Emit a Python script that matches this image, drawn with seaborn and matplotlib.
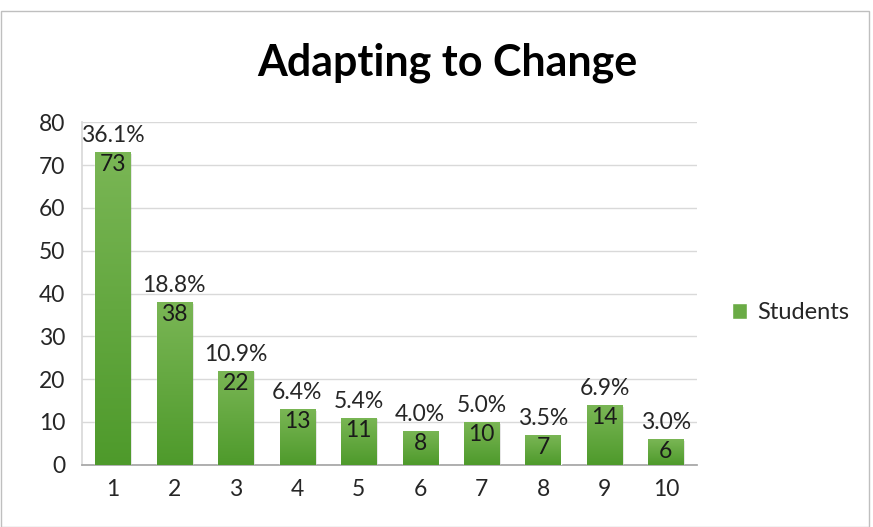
import numpy as np
import pandas as pd
import matplotlib
matplotlib.use("Agg")
import matplotlib.pyplot as plt
import seaborn as sns
from matplotlib.colors import LinearSegmentedColormap
from matplotlib.patches import Rectangle, Patch

# data
ratings = ["1", "2", "3", "4", "5", "6", "7", "8", "9", "10"]
students = [73, 38, 22, 13, 11, 8, 10, 7, 14, 6]
pct_labels = ["36.1%", "18.8%", "10.9%", "6.4%", "5.4%", "4.0%", "5.0%", "3.5%", "6.9%", "3.0%"]

df = pd.DataFrame({"rating": ratings, "students": students})

sns.set_theme(style="white")
plt.rcParams["font.family"] = ["Lato", "DejaVu Sans"]

fig = plt.figure(figsize=(8.73, 5.27), dpi=100)
ax = fig.add_axes([0.094, 0.118, 0.704, 0.650])

sns.barplot(data=df, x="rating", y="students", color="#6aab45", width=0.57,
            ax=ax, zorder=3, saturation=1)

ax.set_ylim(0, 80)
ax.set_yticks(range(0, 81, 10))
ax.yaxis.grid(True, color="#d9d9d9", lw=1, zorder=0)
ax.set_axisbelow(True)
ax.set_xlabel("")
ax.set_ylabel("")
ax.tick_params(axis="both", labelsize=16.5, colors="#262626", length=0)
ax.tick_params(axis="x", pad=10)
ax.tick_params(axis="y", pad=12)
for s in ["top", "right"]:
    ax.spines[s].set_visible(False)
ax.spines["left"].set_color("#d9d9d9")
ax.spines["bottom"].set_color("#a6a6a6")

# gradient fill + soft shadow on each bar
grad = LinearSegmentedColormap.from_list("g", ["#4e9a2b", "#7ab655"])
img = np.linspace(0, 1, 256).reshape(-1, 1)
for p in list(ax.patches):
    x0, w, h = p.get_x(), p.get_width(), p.get_height()
    sh = Rectangle((x0 + 0.03, 0), w, h - 0.4, facecolor="#000000", alpha=0.12,
                   edgecolor="none", zorder=2)
    ax.add_patch(sh)
    im = ax.imshow(img, cmap=grad, aspect="auto", origin="lower",
                   extent=(x0, x0 + w, 0, h), zorder=4)
    im.set_clip_path(p)
ax.set_xlim(-0.5, len(ratings) - 0.5)

for i, (v, pl) in enumerate(zip(students, pct_labels)):
    ax.text(i, v + 1.4, pl, ha="center", va="bottom", fontsize=16.5, color="#262626", zorder=5)
    ax.text(i, v - 0.5, str(v), ha="center", va="top", fontsize=16.5, color="#1a1a1a", zorder=5)

fig.suptitle("Adapting to Change", x=0.512, y=0.92, fontsize=31, fontweight="bold",
             color="#000000")

fig.legend(handles=[Patch(facecolor="#6aab45", label="Students")], loc="center left",
           bbox_to_anchor=(0.838, 0.407), frameon=False, fontsize=17,
           handlelength=0.65, handleheight=0.65, handletextpad=0.45, borderpad=0,
           borderaxespad=0)

# outer chart border
fig.patches.append(Rectangle((0.001, 0.0), 0.994, 0.98, transform=fig.transFigure,
                             fill=False, edgecolor="#bfbfbf", lw=1))

fig.savefig("out.png", dpi=100)
